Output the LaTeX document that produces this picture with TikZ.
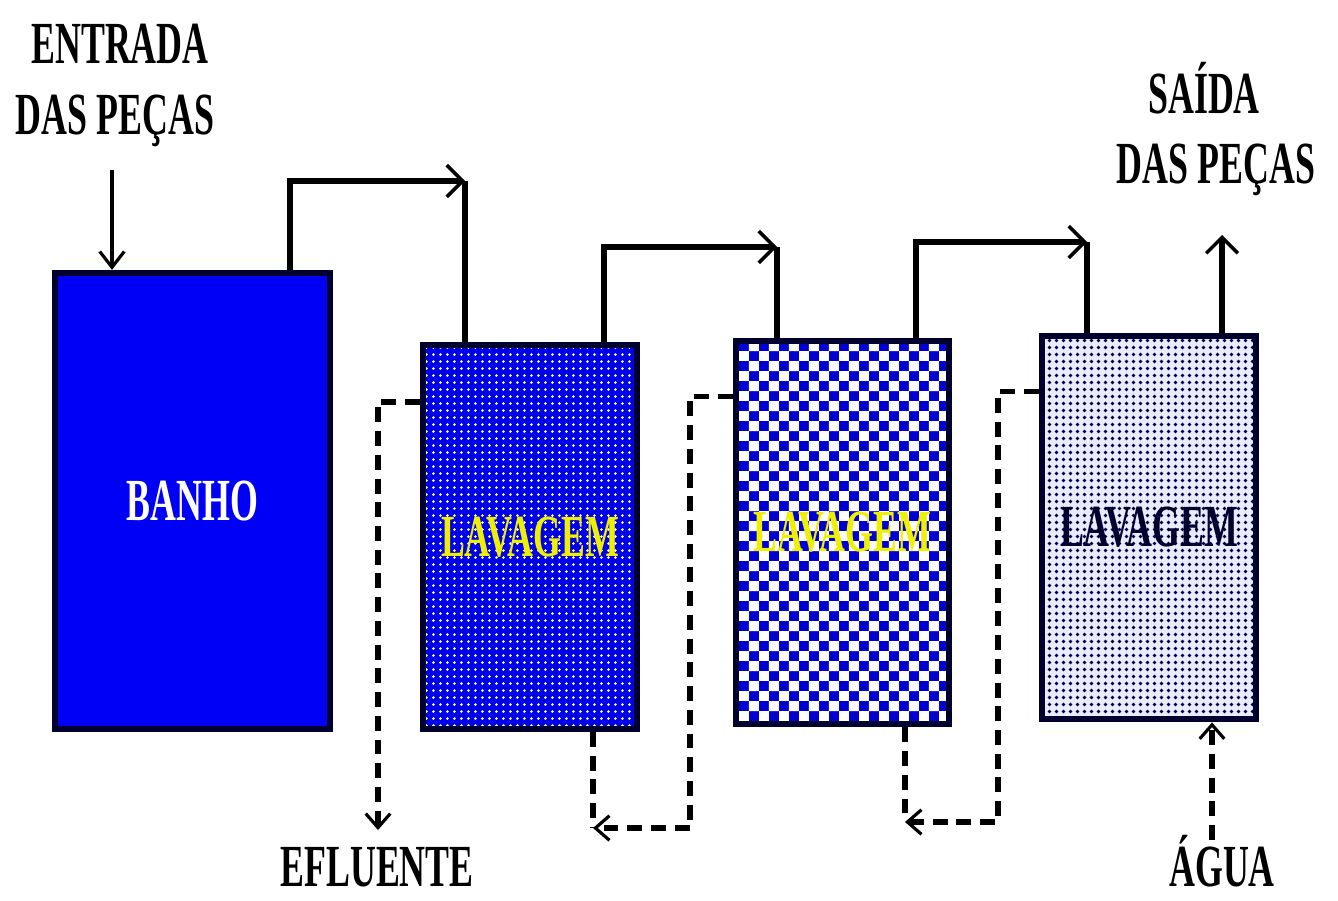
\documentclass[tikz,border=0pt]{standalone}
\usepackage{fontspec}
\setmainfont{Liberation Serif}
\newfontfamily\plantfont{Liberation Serif}[FakeStretch=0.6]
\usetikzlibrary{arrows.meta,calc,patterns,patterns.meta}
\definecolor{rim}{HTML}{00002E}
\definecolor{bath}{HTML}{0000F6}
\definecolor{rinseA}{HTML}{0000E6}
\definecolor{rinseB}{HTML}{0000D2}
\definecolor{rinseC}{HTML}{E8ECFF}
\definecolor{dotC}{HTML}{00004A}
\definecolor{washtxt}{HTML}{EEF000}
\newcommand{\TankW}{4.27cm}
\newcommand{\TankH}{7.67cm}

\begin{document}
\begin{tikzpicture}[x=0.02cm, y=-0.02cm, font=\plantfont\bfseries\fontsize{34}{38}\selectfont,
    tank/.style={draw=rim, line width=3.6pt, minimum width=\TankW, minimum height=\TankH, inner sep=0pt, preaction={fill=#1}},
    lbl/.style={anchor=base, inner sep=0pt},
    move/.style={line width=3.3pt, -{Straight Barb[length=9pt,width=18pt,line width=2pt]}},
    lift/.style={line width=3.3pt},
    feed/.style={line width=2pt, -{Straight Barb[length=9pt,width=14pt,line width=1.8pt]}},
    flowline/.style={line width=3.2pt, dash pattern=on 8.5pt off 5pt},
    flow/.style={flowline, -{Straight Barb[length=8pt,width=14pt,line width=1.8pt]}},
  ]
\useasboundingbox (0,0) rectangle (1338,900);

% --- Tanks ---------------------------------------------------------------------
\node[tank=bath, minimum width=5.5cm, minimum height=9.12cm, text=white] (banho) at (192.5,501) {BANHO};
\node[tank=rinseA, pattern={Dots[distance=0.14cm,radius=0.03cm]}, pattern color=white, text=washtxt] (lav1) at (530,537) {LAVAGEM};
\node[tank=rinseB, pattern=checkerboard, pattern color=white, text=washtxt] (lav2) at (842.5,532.5) {LAVAGEM};
\node[tank=rinseC, pattern={Dots[distance=0.14cm,radius=0.036cm]}, pattern color=dotC, text=rim] (lav3) at (1149,527.5) {LAVAGEM};

% --- Labels --------------------------------------------------------------------
\node[lbl] (entrada) at (120,63) {ENTRADA};
\node[lbl] (entrada2) at (115,134) {DAS PEÇAS};
\node[lbl] (saida) at (1204,113) {SAÍDA};
\node[lbl] (saida2) at (1216,183) {DAS PEÇAS};
\node[lbl] (efluente) at (377,886) {EFLUENTE};
\node[lbl] (agua) at (1222,886) {ÁGUA};

% --- Parts: lifted from tank to tank -------------------------------------------
\coordinate (in) at (112,170);
\coordinate (over1) at (465,181);
\coordinate (over2) at (777,247);
\coordinate (over3) at (1087,242);
\coordinate (out) at (1222,235);
\draw[feed] (in) -- (in |- banho.north);
\draw[move] (290,0 |- banho.north) |- (over1);
\draw[lift] (over1) -- (over1 |- lav1.north);
\draw[move] (604,0 |- lav1.north) |- (over2);
\draw[lift] (over2) -- (over2 |- lav2.north);
\draw[move] (916,0 |- lav2.north) |- (over3);
\draw[lift] (over3) -- (over3 |- lav3.north);
\draw[move] (out |- lav3.north) -- (out);

% --- Water: counter-current, dashed ---------------------------------------------
\coordinate (drain) at (378,830);
\coordinate (ret1) at (690,828);
\coordinate (drop1) at (593,828);
\coordinate (ret2) at (998,822);
\coordinate (drop2) at (905,822);
\coordinate (feedin) at (1212,840);
\draw[flow] ($(lav1.north west)+(0,60)$) -| (drain);
\draw[flowline] (drop1 |- lav1.south) -- (drop1);
\draw[flow] ($(lav2.north west)+(0,59)$) -| (ret1) -- (drop1);
\draw[flowline] (drop2 |- lav2.south) -- (drop2);
\draw[flow] ($(lav3.north west)+(0,59)$) -| (ret2) -- (drop2);
\draw[flow] (feedin) -- (feedin |- lav3.south);
\end{tikzpicture}
\end{document}
